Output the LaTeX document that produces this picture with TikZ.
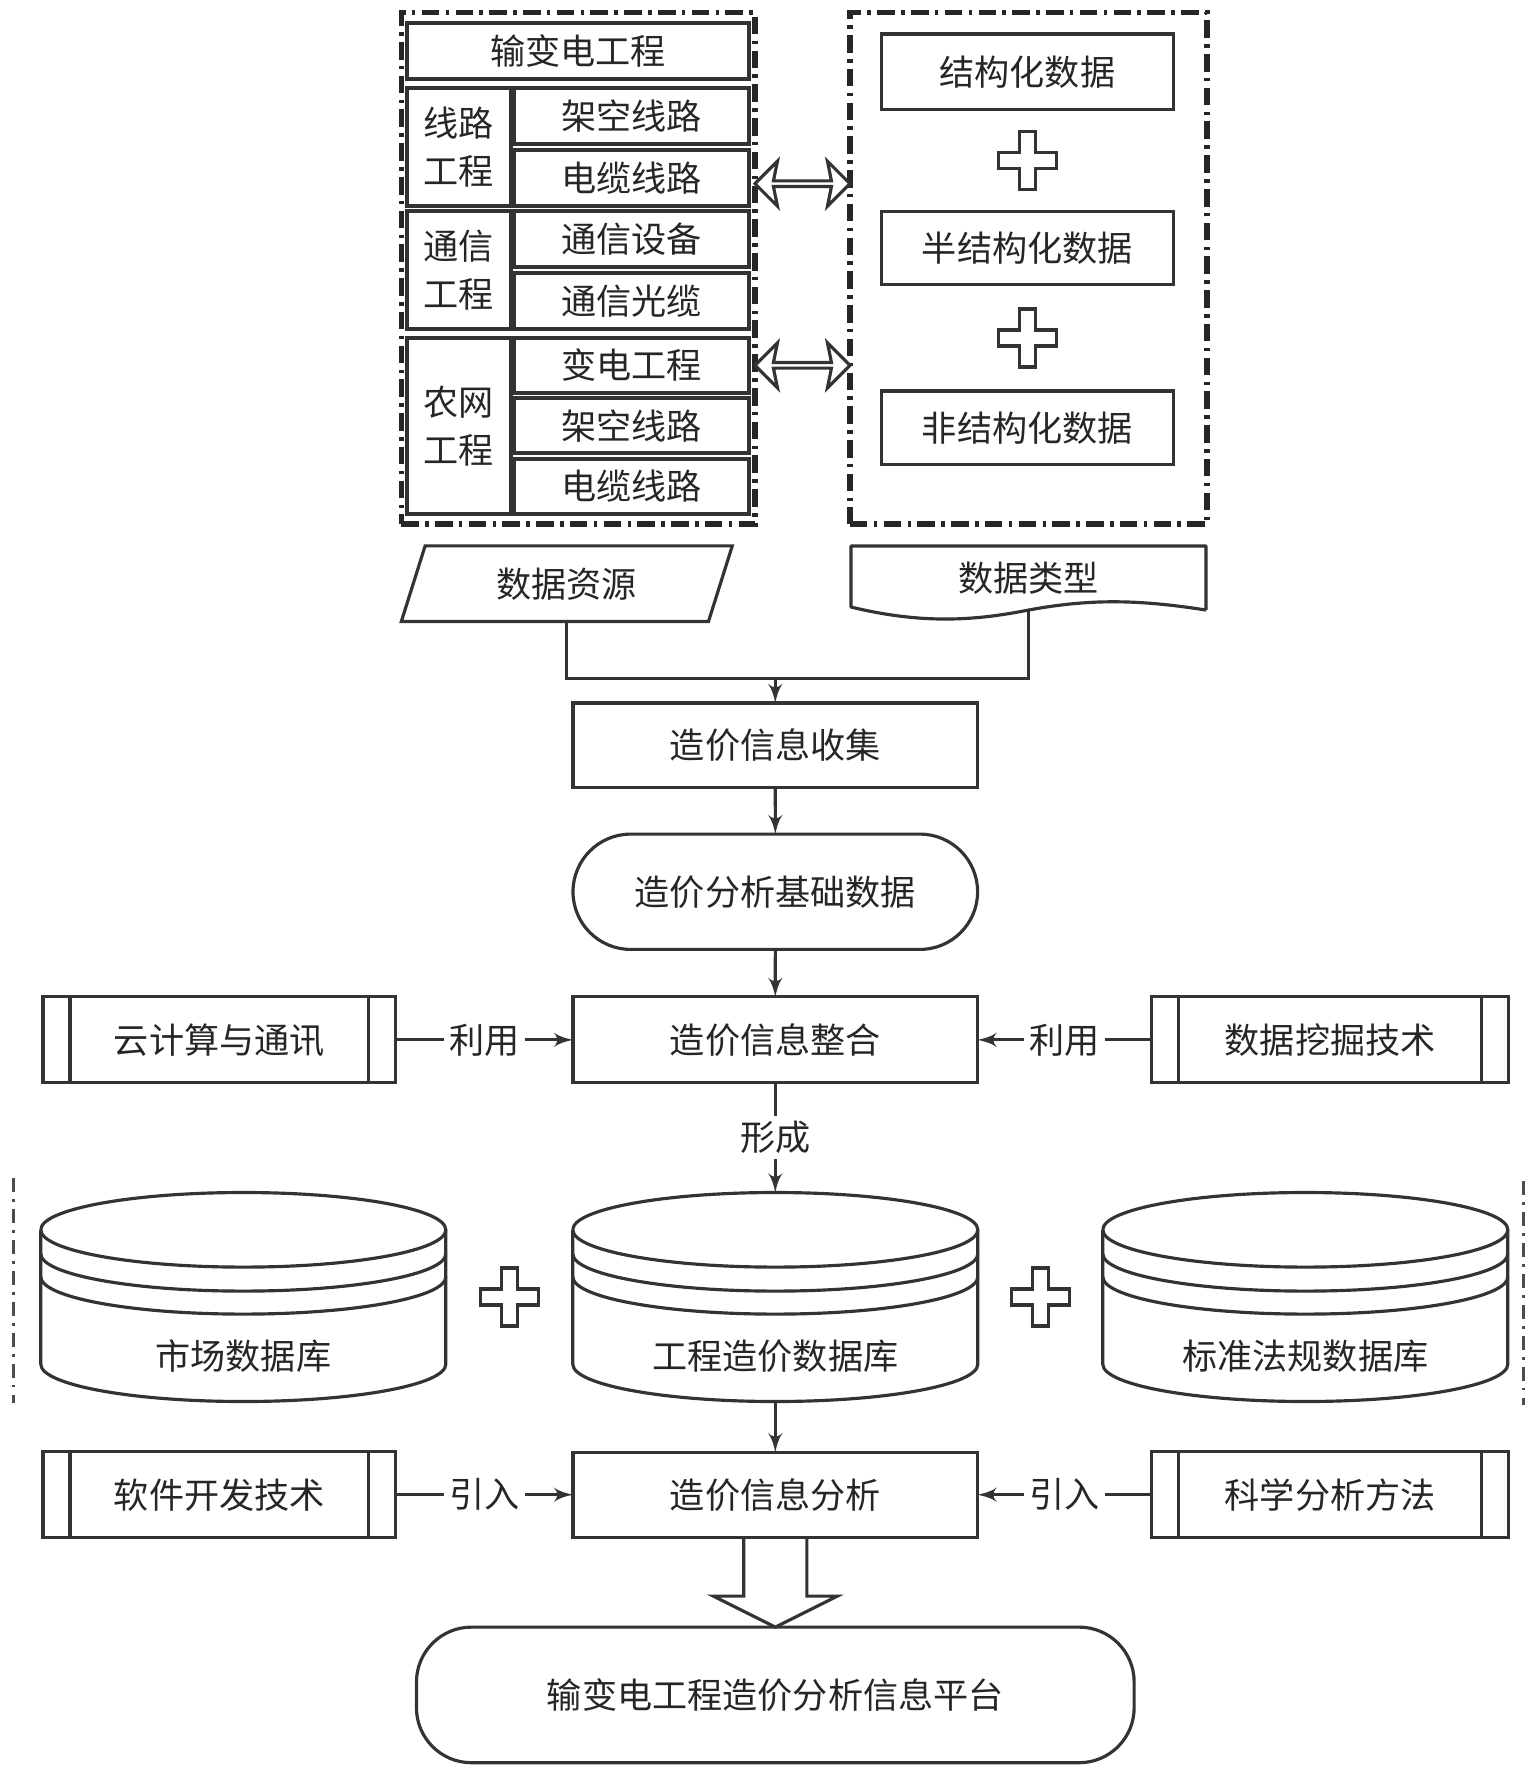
\documentclass[tikz,border=0pt]{standalone}
\usepackage{fontspec}
\setmainfont{Noto Sans CJK SC}
\usepackage{tikz}
\usetikzlibrary{arrows}
\usetikzlibrary{fit,positioning,backgrounds,calc,shapes.geometric,shapes.misc,shapes.arrows}

\begin{document}
\begin{tikzpicture}[background rectangle/.style={fill=white}, show background rectangle, inner frame sep=0pt, >=latex', font=\fontsize{10pt}{13.5pt}\selectfont, text=black!85,
	addsign/.pic={\draw[black!80, line width=0.9pt, fill=white] (-0.08,0.29) -- (0.08,0.29) -- (0.08,0.08) -- (0.29,0.08) -- (0.29,-0.08) -- (0.08,-0.08) -- (0.08,-0.29) -- (-0.08,-0.29) -- (-0.08,-0.08) -- (-0.29,-0.08) -- (-0.29,0.08) -- (-0.08,0.08) -- cycle;}]
		\tikzstyle{box}=[rectangle, draw=black!80, line width=0.9pt, inner sep=0pt, outer sep=0pt, minimum width=4.046cm]
		\tikzstyle{cell}=[rectangle, draw=black!80, line width=1.1pt, inner sep=0pt, outer sep=0pt, minimum width=2.35cm, minimum height=0.56cm]
		\tikzstyle{sidecell}=[cell, minimum width=1.04cm, align=center]
		\tikzstyle{outerbox}=[rectangle, draw=black!85, line width=1.5pt, outer sep=0pt, dash pattern=on 5pt off 1.8pt on 1pt off 1.8pt]
		\tikzstyle{tool}=[box, minimum width=3.526cm, minimum height=0.859cm, path picture={\draw[black!80, line width=0.9pt] ([xshift=0.27cm]path picture bounding box.north west) -- ([xshift=0.27cm]path picture bounding box.south west) ([xshift=-0.27cm]path picture bounding box.north east) -- ([xshift=-0.27cm]path picture bounding box.south east);}]
		\tikzstyle{dbase}=[rectangle, inner sep=0pt, outer sep=0pt, minimum width=4.05cm, minimum height=2.09cm]
		\tikzstyle{twoway}=[double arrow, draw=black!80, fill=white, line width=0.9pt, inner sep=0pt, minimum width=0.45cm, minimum height=0.95cm, double arrow head extend=0.11cm, double arrow head indent=0.04cm]
		\tikzstyle{connect}=[-latex', draw=black!80, line width=0.9pt]
		\tikzstyle{wire}=[draw=black!80, line width=0.9pt]
		\tikzstyle{tag}=[fill=white, inner sep=1.5pt]
		\useasboundingbox (0,0) rectangle (15.36,-17.72);
		% data sources
		\node[cell, minimum width=3.424cm, minimum height=0.565cm] (title) at (5.781,-0.509) {输变电工程};
		\node[sidecell, minimum height=1.175cm, anchor=north west] (lnside) at (4.069,-0.882) {线路\\工程};
		\node[cell] (ln1) [right=0.03cm of lnside.north east, anchor=north west] {架空线路};
		\node[cell] (ln2) [below=0.055cm of ln1] {电缆线路};
		\node[sidecell, minimum height=1.175cm] (cmside) [below=0.056cm of lnside] {通信\\工程};
		\node[cell] (cm1) [right=0.03cm of cmside.north east, anchor=north west] {通信设备};
		\node[cell] (cm2) [below=0.055cm of cm1] {通信光缆};
		\node[sidecell, minimum height=1.763cm] (nwside) [below=0.09cm of cmside] {农网\\工程};
		\node[cell, minimum height=0.55cm] (nw1) [right=0.03cm of nwside.north east, anchor=north west] {变电工程};
		\node[cell, minimum height=0.55cm] (nw2) [below=0.056cm of nw1] {架空线路};
		\node[cell, minimum height=0.55cm] (nw3) [below=0.056cm of nw2] {电缆线路};
		\node[outerbox, fit=(title)(nwside)(nw3), inner xsep=0.057cm, inner ysep=0.1cm] (srcbox) {};
		% data kinds
		\node[outerbox, minimum width=3.572cm, minimum height=5.115cm] (kindbox) [right=0.949cm of srcbox] {};
		\node[box, minimum width=2.916cm, minimum height=0.757cm] (struct) at (10.274,-0.718) {结构化数据};
		\node[box, minimum width=2.916cm, minimum height=0.735cm] (semi) [below=1.017cm of struct] {半结构化数据};
		\node[box, minimum width=2.916cm, minimum height=0.735cm] (unstruct) [below=1.062cm of semi] {非结构化数据};
		\pic at ($(struct.south)!0.5!(semi.north)$) {addsign};
		\pic at ($(semi.south)!0.5!(unstruct.north)$) {addsign};
		\node[twoway, yshift=-0.06cm] (arr1) at ($(srcbox.east |- ln2)!0.5!(kindbox.west |- ln2)$) {};
		\node[twoway] (arr2) at ($(srcbox.east |- nw1)!0.5!(kindbox.west |- nw1)$) {};
		\node[trapezium, trapezium left angle=70, trapezium right angle=110, trapezium stretches=true, draw=black!80, line width=0.9pt, inner sep=0pt, outer sep=0pt, minimum width=3.311cm, minimum height=0.757cm] (res) at (5.668,-5.837) {数据资源};
		\node[rectangle, inner sep=0pt, outer sep=0pt, minimum width=3.549cm, minimum height=0.641cm] (kind) [below=0.218cm of kindbox] {数据类型};
		\draw[wire, line join=round] (kind.south east) -- (kind.north east) -- (kind.north west) -- ([yshift=0.03cm]kind.south west) .. controls ($(kind.south west)+(0.7,-0.14)$) and ($(kind.south)+(-0.55,-0.11)$) .. (kind.south) .. controls ($(kind.south)+(0.6,0.11)$) and ($(kind.south east)+(-0.7,0.11)$) .. (kind.south east);
		% main flow
		\node[box, minimum height=0.848cm] (collect) at (7.753,-7.454) {造价信息收集};
		\coordinate (join) at ($(collect.north)+(0,0.249)$);
		\node[box, rounded rectangle, minimum height=1.153cm] (basedata) [below=0.463cm of collect] {造价分析基础数据};
		\node[box, minimum height=0.859cm] (integ) [below=0.475cm of basedata] {造价信息整合};
		\node[tool] (cloud) [left=1.774cm of integ] {云计算与通讯};
		\node[tool, minimum width=3.571cm] (mining) [right=1.741cm of integ] {数据挖掘技术};
		\node[dbase, label={[yshift=-0.59cm]center:工程造价数据库}] (costdb) [below=1.097cm of integ] {};
		\node[dbase, label={[yshift=-0.59cm]center:市场数据库}] (market) [left=1.27cm of costdb] {};
		\node[dbase, label={[yshift=-0.59cm]center:标准法规数据库}] (standard) [right=1.25cm of costdb] {};
		\foreach \db in {market,costdb,standard}{
			\draw[wire] ([yshift=-0.373cm]\db.north west) arc[start angle=180, end angle=-180, x radius=2.025cm, y radius=0.373cm];
			\foreach \dy in {0.613cm,0.843cm}
				\draw[wire] ([yshift=-\dy]\db.north west) arc[start angle=180, end angle=360, x radius=2.025cm, y radius=0.373cm];
			\draw[wire] ([yshift=-0.373cm]\db.north west) -- ([yshift=0.373cm]\db.south west) arc[start angle=180, end angle=360, x radius=2.025cm, y radius=0.373cm] -- ([yshift=-0.373cm]\db.north east);
		}
		\pic at ($(market.east)!0.5!(costdb.west)$) {addsign};
		\pic at ($(costdb.east)!0.5!(standard.west)$) {addsign};
		\draw[black!70, line width=0.8pt, dash pattern=on 4pt off 2pt on 0.8pt off 2pt] (0.136,-11.78) -- (0.136,-14.03);
		\draw[black!70, line width=0.8pt, dash pattern=on 4pt off 2pt on 0.8pt off 2pt] (15.235,-11.81) -- (15.235,-14.05);
		\node[box, minimum height=0.848cm] (analysis) [below=0.508cm of costdb] {造价信息分析};
		\node[tool] (software) [left=1.774cm of analysis] {软件开发技术};
		\node[tool, minimum width=3.571cm] (science) [right=1.741cm of analysis] {科学分析方法};
		\node[box, rounded corners=0.55cm, minimum width=7.177cm, minimum height=1.356cm] (platform) [below=0.9cm of analysis] {输变电工程造价分析信息平台};
		\draw[wire] (res.south) |- (join) -| (kind.south);
		\draw[wire] ([xshift=-0.316cm]analysis.south) -- ([xshift=-0.316cm,yshift=0.31cm]platform.north) -- ([xshift=-0.62cm,yshift=0.31cm]platform.north) -- (platform.north) -- ([xshift=0.62cm,yshift=0.31cm]platform.north) -- ([xshift=0.316cm,yshift=0.31cm]platform.north) -- ([xshift=0.316cm]analysis.south);
		\path 
		(join) edge [connect] (collect)
		(collect) edge [connect] (basedata)
		(basedata) edge [connect] (integ)
		(cloud) edge [connect] node[tag] {利用} (integ)
		(mining) edge [connect] node[tag] {利用} (integ)
		(integ) edge [connect] node[tag] {形成} (costdb)
		(costdb) edge [connect] (analysis)
		(software) edge [connect] node[tag] {引入} (analysis)
		(science) edge [connect] node[tag] {引入} (analysis)
		;
	\end{tikzpicture}
\end{document}
